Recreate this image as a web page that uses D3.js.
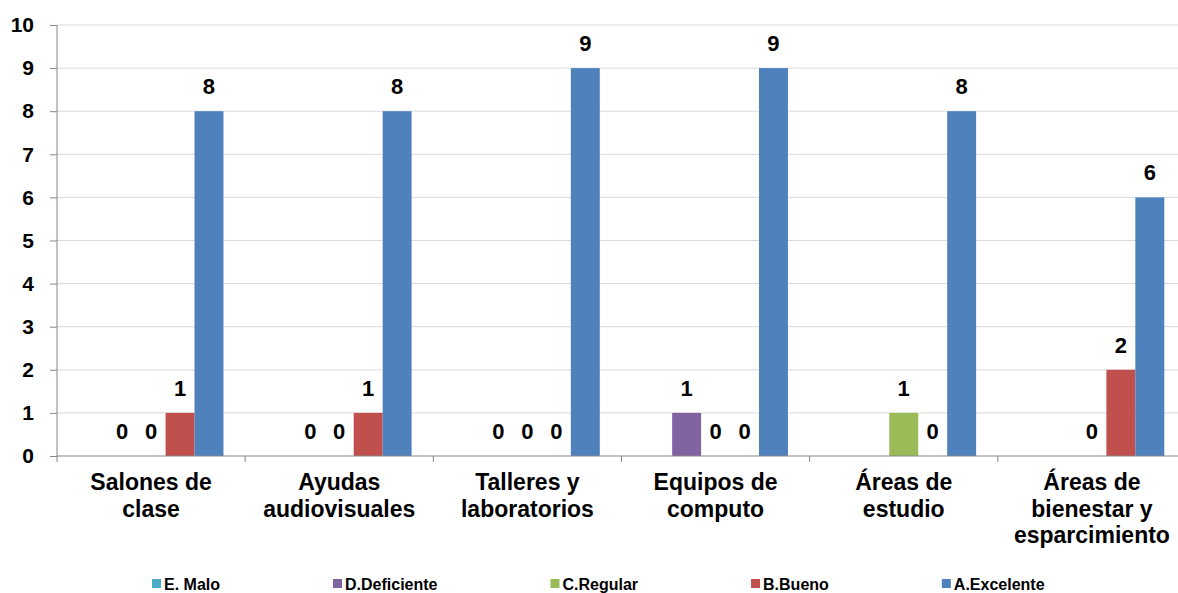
<!DOCTYPE html>
<html>
<head>
<meta charset="utf-8">
<script src="https://cdn.jsdelivr.net/npm/d3@7/dist/d3.min.js"></script>
<style>
  body { margin: 0; background: #fff; }
  svg { display: block; font-family: "Liberation Sans", Arial, sans-serif; }
</style>
</head>
<body>
<div id="vis"></div>
<script>
const categories = [
  ["Salones de", "clase"],
  ["Ayudas", "audiovisuales"],
  ["Talleres y", "laboratorios"],
  ["Equipos de", "computo"],
  ["Áreas de", "estudio"],
  ["Áreas de", "bienestar y", "esparcimiento"]
];
const seriesNames = ["E. Malo", "D.Deficiente", "C.Regular", "B.Bueno", "A.Excelente"];
const seriesColors = ["#4BACC6", "#8064A2", "#9BBB59", "#C0504D", "#4F81BD"];
const malo = [null, null, null, null, null, null];
const deficiente = [0, 0, 0, 1, null, null];
const regular = [0, 0, 0, 0, 1, 0];
const bueno = [1, 1, 0, 0, 0, 2];
const excelente = [8, 8, 9, 9, 8, 6];
const yTicks = [0, 1, 2, 3, 4, 5, 6, 7, 8, 9, 10];

const values = [malo, deficiente, regular, bueno, excelente];

const width = 1178;
const height = 593;
const margin = { top: 25, right: -8, bottom: 137, left: 57 };

const svg = d3.select("#vis")
  .append("svg")
  .attr("width", width)
  .attr("height", height);

const catIdx = categories.map((c, i) => i);

const x0 = d3.scaleBand()
  .domain(catIdx)
  .range([margin.left, width - margin.right])
  .padding(0);

const x1 = d3.scaleBand()
  .domain(seriesNames)
  .range([0, x0.bandwidth()])
  .paddingInner(0)
  .paddingOuter(0.75);

const y = d3.scaleLinear()
  .domain([0, 10])
  .range([height - margin.bottom, margin.top]);

// gridlines
svg.append("g")
  .selectAll("line")
  .data(yTicks.filter(d => d > 0))
  .enter()
  .append("line")
  .attr("x1", margin.left)
  .attr("x2", width - margin.right)
  .attr("y1", d => y(d))
  .attr("y2", d => y(d))
  .attr("stroke", "#d9d9d9")
  .attr("stroke-width", 1);

// bars
const groups = svg.append("g")
  .selectAll("g")
  .data(catIdx)
  .enter()
  .append("g")
  .attr("transform", i => `translate(${x0(i)},0)`);

groups.selectAll("rect")
  .data(i => seriesNames.map((s, k) => ({ s, k, v: values[k][i] })).filter(d => d.v > 0))
  .enter()
  .append("rect")
  .attr("x", d => x1(d.s))
  .attr("width", x1.bandwidth())
  .attr("y", d => y(d.v))
  .attr("height", d => y(0) - y(d.v))
  .attr("fill", d => seriesColors[d.k]);

// data labels
groups.selectAll("text")
  .data(i => seriesNames.map((s, k) => ({ s, k, v: values[k][i] })).filter(d => d.v !== null))
  .enter()
  .append("text")
  .attr("x", d => x1(d.s) + x1.bandwidth() / 2)
  .attr("y", d => y(d.v) - 17)
  .attr("text-anchor", "middle")
  .attr("font-size", "22px")
  .attr("font-weight", "bold")
  .attr("fill", "#000")
  .text(d => d.v);

// y axis
const yAxis = svg.append("g")
  .attr("transform", `translate(${margin.left},0)`)
  .call(d3.axisLeft(y).tickValues(yTicks).tickSize(7).tickPadding(16).tickFormat(d3.format("d")));
yAxis.select(".domain").attr("stroke", "#868686").attr("d", `M0,${y(10)}V${y(0)}`);
yAxis.selectAll(".tick line").attr("stroke", "#868686");
yAxis.selectAll(".tick text")
  .attr("font-size", "21px")
  .attr("font-weight", "bold")
  .attr("font-family", "Liberation Sans, Arial, sans-serif")
  .attr("fill", "#000");

// x axis
svg.append("line")
  .attr("x1", margin.left)
  .attr("x2", width - margin.right)
  .attr("y1", y(0))
  .attr("y2", y(0))
  .attr("stroke", "#868686");

svg.append("g")
  .selectAll("line")
  .data(d3.range(categories.length + 1))
  .enter()
  .append("line")
  .attr("x1", i => margin.left + i * x0.step())
  .attr("x2", i => margin.left + i * x0.step())
  .attr("y1", y(0))
  .attr("y2", y(0) + 6)
  .attr("stroke", "#868686");

const catLabels = svg.append("g")
  .selectAll("text")
  .data(catIdx)
  .enter()
  .append("text")
  .attr("x", i => x0(i) + x0.bandwidth() / 2)
  .attr("y", y(0) + 34)
  .attr("text-anchor", "middle")
  .attr("font-size", "23px")
  .attr("font-weight", "bold")
  .attr("fill", "#000");

catLabels.selectAll("tspan")
  .data(i => categories[i])
  .enter()
  .append("tspan")
  .attr("x", function() { return d3.select(this.parentNode).attr("x"); })
  .attr("dy", (d, j) => j === 0 ? 0 : 26.5)
  .text(d => d);

// legend
const legend = svg.append("g").attr("transform", "translate(152,584)");
let lx = 0;
seriesNames.forEach((name, k) => {
  const item = legend.append("g").attr("transform", `translate(${lx},0)`);
  item.append("rect")
    .attr("x", 0)
    .attr("y", -5)
    .attr("width", 9)
    .attr("height", 9)
    .attr("fill", seriesColors[k]);
  const t = item.append("text")
    .attr("x", 12)
    .attr("y", 6)
    .attr("font-size", "16px")
    .attr("font-weight", "bold")
    .attr("fill", "#000")
    .text(name);
  lx += 12 + t.node().getComputedTextLength() + 113;
});
</script>
</body>
</html>
